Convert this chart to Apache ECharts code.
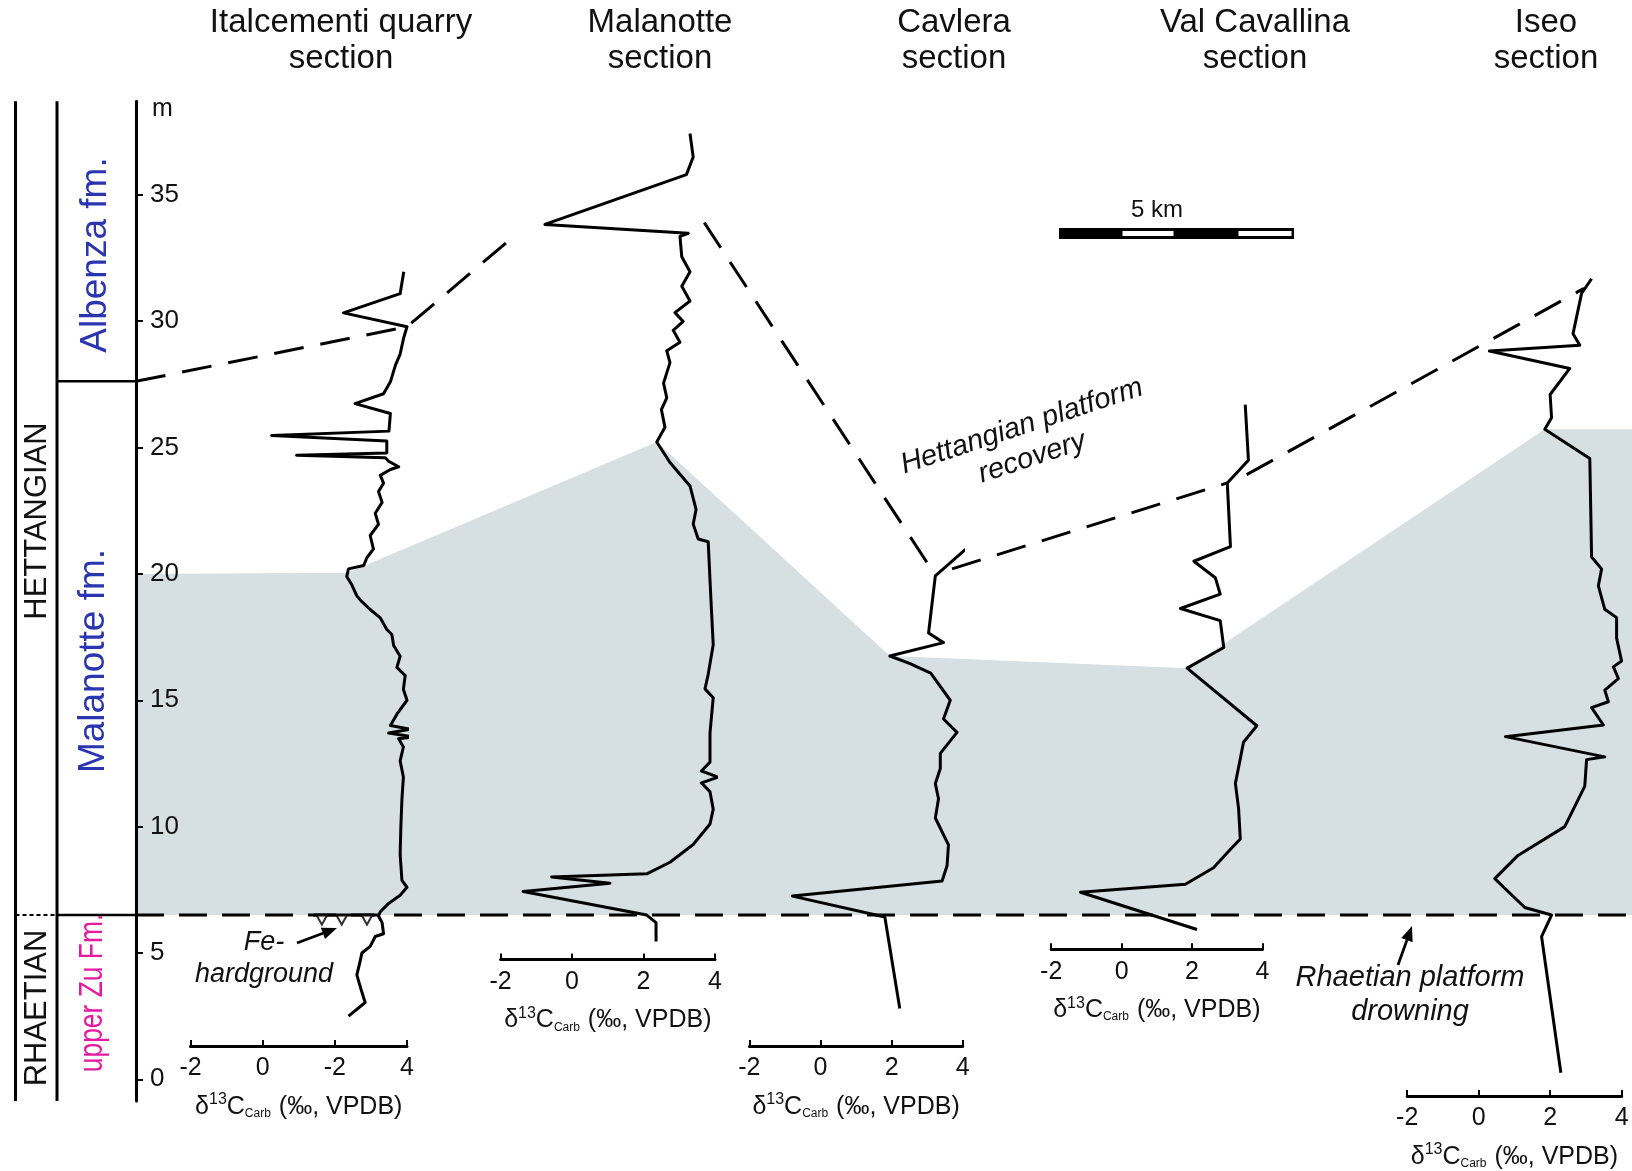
<!DOCTYPE html>
<html><head><meta charset="utf-8">
<script src="https://cdn.jsdelivr.net/npm/echarts@6/dist/echarts.min.js"></script>
<style>html,body{margin:0;padding:0;background:#fff}#c{width:1632px;height:1171px}</style>
</head><body><div id="c"></div>
<script>
// ---------------- DATA ----------------
const sectionTitles = ['Italcementi quarry\nsection', 'Malanotte\nsection', 'Cavlera\nsection', 'Val Cavallina\nsection', 'Iseo\nsection'];
const meterTicks = [0, 5, 10, 15, 20, 25, 30, 35];
const d13cTicksItalcementi = ['-2', '0', '-2', '4'];
const d13cTicks = ['-2', '0', '2', '4'];

// [delta13C (permil), height (m)]
const italcementi = [[2.38,2.5],[2.84,3.04],[2.72,3.59],[2.61,4.13],[2.70,4.67],[2.75,5.0],[2.98,5.26],[3.12,5.65],[3.35,5.76],[3.31,6.2],[3.21,6.46],[3.26,6.63],[3.49,6.96],[3.81,7.28],[4.0,7.6],[3.86,7.87],[3.81,8.9],[3.83,10.0],[3.86,11.1],[3.9,11.96],[3.81,12.6],[3.9,13.15],[3.77,13.48],[4.19,13.55],[3.49,13.7],[4.09,13.85],[3.54,14.0],[3.72,14.45],[4.0,15.0],[3.9,15.43],[3.95,15.98],[3.72,16.3],[3.81,16.74],[3.63,17.17],[3.58,17.6],[3.44,17.8],[3.26,18.26],[2.98,18.59],[2.75,18.9],[2.61,19.13],[2.47,19.57],[2.33,19.9],[2.38,20.2],[2.8,20.33],[2.89,20.65],[3.07,20.98],[2.98,21.52],[3.21,21.96],[3.12,22.4],[3.31,22.83],[3.21,23.26],[3.35,23.59],[3.26,23.9],[3.54,24.13],[3.77,24.24],[3.49,24.46],[3.4,24.6],[0.94,24.7],[3.44,24.78],[3.44,25.26],[0.25,25.48],[3.5,25.65],[3.54,26.35],[2.56,26.74],[3.35,27.13],[3.54,27.6],[3.68,28.26],[3.81,28.7],[3.91,29.35],[4.0,29.78],[2.24,30.33],[3.81,31.09],[3.91,31.96]];
const malanotte = [[2.35,5.45],[2.35,6.2],[2.09,6.5],[-1.37,7.43],[1.06,7.76],[-0.57,8.01],[2.09,8.13],[2.74,8.59],[3.39,9.29],[3.86,10.1],[3.95,10.69],[3.86,11.38],[3.62,11.73],[4.09,11.96],[3.62,12.2],[3.86,12.55],[3.86,13.71],[3.95,15.1],[3.72,15.45],[3.81,16.03],[3.95,17.2],[3.9,18.59],[3.86,19.76],[3.81,21.27],[3.53,21.38],[3.39,21.97],[3.47,22.55],[3.3,23.48],[2.74,24.41],[2.37,25.22],[2.6,25.8],[2.5,26.5],[2.65,26.97],[2.56,27.55],[2.74,28.36],[2.65,28.83],[3.02,29.17],[2.83,29.64],[3.11,29.99],[2.88,30.34],[3.3,30.8],[3.07,31.38],[3.3,31.96],[3.07,32.55],[3.02,33.36],[3.25,33.48],[-0.76,33.83],[3.2,35.8],[3.39,36.5],[3.3,37.43]];
const cavlera = [[2.23,2.8],[1.81,6.42],[-0.79,7.25],[3.42,7.85],[3.56,8.45],[3.6,9.28],[3.23,10.34],[3.32,11.1],[3.23,11.7],[3.37,12.3],[3.37,12.9],[3.84,13.73],[3.46,14.26],[3.65,15.0],[3.1,16.07],[2.52,16.45],[1.95,16.75],[3.46,17.28],[3.04,17.66],[3.23,19.92],[4.08,20.97]];
const valCavallina = [[2.14,5.93],[-1.17,7.4],[1.81,7.72],[2.61,8.37],[3.09,9.1],[3.37,9.51],[3.32,10.73],[3.23,11.71],[3.37,12.69],[3.46,13.34],[3.84,13.99],[1.86,16.27],[2.9,17.09],[2.8,18.15],[1.67,18.63],[2.8,19.2],[2.66,19.85],[2.05,20.5],[3.09,21.08],[3.0,23.6],[3.6,24.5],[3.51,26.7]];
const iseo = [[2.3,0.26],[1.76,5.65],[2.04,6.5],[1.29,6.8],[0.45,7.94],[1.1,8.86],[2.41,10.0],[2.97,11.6],[3.02,12.65],[3.53,12.76],[0.75,13.56],[3.49,14.02],[3.16,14.71],[3.63,14.94],[3.53,15.4],[3.91,15.86],[3.77,16.32],[4.0,16.55],[3.86,17.46],[3.86,18.27],[3.53,18.6],[3.35,19.53],[3.44,20.2],[3.16,20.67],[3.11,24.57],[1.85,25.72],[2.04,26.18],[2.0,27.1],[2.55,28.13],[0.3,28.82],[2.83,29.05],[2.64,29.5],[2.88,31.1],[3.16,31.68]];
const sectionSeries = [italcementi, malanotte, cavlera, valCavallina, iseo];

// Fe-hardground marks on Italcementi section
const feHardground = [[1.64,6.3],[2.19,6.3],[2.89,6.3]];
const feHardgroundLine = [[1.4,6.5],[3.1,6.5]];

// correlation lines: [section index (-1 = height axis, 5 = right edge), delta13C, height m]
const formationTop = 27.62;
const drowningLevel = 6.5;
const linkAlbenza = [[-1,0,formationTop],[0,4.0,29.78],[1,-1.68,33.3]];
const linkMalanotteCavlera = [[1,3.7,33.9],[2,3.23,19.95]];
const linkCavleraVal = [[2,3.7,20.2],[3,3.0,23.6]];
const linkValIseo = [[3,3.55,23.93],[4,2.95,31.3]];
const linkDrowning = [[-1,0,drowningLevel],[5,0,drowningLevel]];
// grey platform interval: top boundary points (closed at drowning level)
const shadeTop = [[-1,0,20.0],[0,2.36,20.05],[1,2.37,25.22],[2,1.95,16.75],[3,1.86,16.27],[4,1.85,25.72],[5,0,25.72]];

// ---------------- LAYOUT ----------------
const W = 1632, H = 1171;
const Y0 = 1079.3, PXM = 25.27;
const py = m => Y0 - m * PXM;
const YMAX = 38.7, YMIN = -0.86;
const AXIS_X = 136;
const XMIN = -2, XMAX = 4;
const SEC = [
  {left:190.5, width:216.5, base:1.32, tx:341},
  {left:500.6, width:214.4, base:4.74, tx:660},
  {left:749.4, width:213.3, base:1.32, tx:954},
  {left:1051.2, width:211.3, base:5.15, tx:1255},
  {left:1407.2, width:214.4, base:-0.66, tx:1546}
];
const FONT = '"Liberation Sans", Arial, Helvetica, sans-serif';
const SHADE = '#d6dfe2';
const LW = 3;
const ovX = (k, d) => k < 0 ? AXIS_X : (k >= SEC.length ? W : SEC[k].left + (d - XMIN) / (XMAX - XMIN) * SEC[k].width);
const toOv = arr => arr.map(p => [ovX(p[0], p[1]), p[2]]);

const grids = [{left: AXIS_X, right: 0, top: py(YMAX), bottom: H - py(YMIN), outerBoundsMode: 'none', containLabel: false}];
const xAxes = [{gridIndex: 0, type: 'value', min: AXIS_X, max: W, show: false}];
const yAxes = [{
  gridIndex: 0, type: 'value', min: YMIN, max: YMAX, position: 'left', z: 10,
  axisLine: {show: true, onZero: false, lineStyle: {color: '#000', width: 3}},
  axisTick: {show: true, inside: true, length: 7, lineStyle: {color: '#000', width: 2}, customValues: meterTicks},
  axisLabel: {show: true, inside: true, margin: 14, fontSize: 26, color: '#111', fontFamily: FONT, customValues: meterTicks},
  splitLine: {show: false},
  name: 'm', nameLocation: 'end', nameGap: -8,
  nameTextStyle: {fontSize: 25, color: '#111', fontFamily: FONT, align: 'left', verticalAlign: 'middle', padding: [0, 0, 0, 16]}
}];

const axisName = '{d|δ}{s|13}{d|C}{b|Carb}{d| (‰, VPDB)}';
SEC.forEach((s, k) => {
  grids.push({left: s.left, width: s.width, top: py(YMAX), bottom: H - py(s.base), outerBoundsMode: 'none', containLabel: false});
  const labels = k === 0 ? d13cTicksItalcementi : d13cTicks;
  xAxes.push({
    gridIndex: k + 1, type: 'value', min: XMIN, max: XMAX, interval: 2, position: 'bottom', z: 10,
    axisLine: {show: true, onZero: false, lineStyle: {color: '#000', width: 3}},
    axisTick: {show: true, inside: true, length: 6, lineStyle: {color: '#000', width: 2}},
    axisLabel: {fontSize: 25, color: '#111', fontFamily: FONT, margin: 10, formatter: v => labels[Math.round((v - XMIN) / 2)]},
    splitLine: {show: false},
    name: axisName, nameLocation: 'middle', nameGap: 45,
    nameTextStyle: {color: '#111', fontFamily: FONT, rich: {
      d: {fontSize: 25, fontFamily: FONT, color: '#111', lineHeight: 32, verticalAlign: 'middle'},
      s: {fontSize: 16, fontFamily: FONT, color: '#111', lineHeight: 32, verticalAlign: 'top', padding: [1, 0, 0, 0]},
      b: {fontSize: 12, fontFamily: FONT, color: '#111', lineHeight: 32, verticalAlign: 'bottom', padding: [0, 1, 3, 0]}
    }}
  });
  yAxes.push({gridIndex: k + 1, type: 'value', min: s.base, max: YMAX, show: false});
});

const series = [];
// grey shaded interval
const shadePoly = toOv(shadeTop).concat([[W, drowningLevel], [AXIS_X, drowningLevel]]);
series.push({
  type: 'custom', xAxisIndex: 0, yAxisIndex: 0, z: 0, silent: true,
  data: shadePoly,
  renderItem: (params, api) => {
    if (params.dataIndex !== 0) return null;
    return {type: 'polygon', shape: {points: shadePoly.map(p => api.coord(p))}, style: {fill: SHADE}};
  }
});
const dashLine = (data, dash) => ({
  type: 'line', xAxisIndex: 0, yAxisIndex: 0, z: 3, silent: true, symbol: 'none', animation: false,
  data: toOv(data), lineStyle: {color: '#000', width: LW, type: dash, cap: 'butt'}
});
series.push(dashLine(linkDrowning, [28, 15]));
series.push(dashLine(linkAlbenza, [30, 17]));
series.push(dashLine(linkMalanotteCavlera, [30, 17]));
series.push(dashLine(linkCavleraVal, [30, 17]));
series.push(dashLine(linkValIseo, [30, 17]));

sectionSeries.forEach((d, k) => {
  series.push({
    type: 'line', name: sectionTitles[k].replace('\n', ' '), xAxisIndex: k + 1, yAxisIndex: k + 1,
    data: d, symbol: 'none', z: 5, silent: true, clip: false,
    lineStyle: {color: '#000', width: LW, join: 'round'}
  });
});
series.push({
  type: 'line', xAxisIndex: 1, yAxisIndex: 1, data: feHardgroundLine, symbol: 'none', z: 5, silent: true,
  lineStyle: {color: '#000', width: LW}
});
series.push({
  type: 'scatter', xAxisIndex: 1, yAxisIndex: 1, data: feHardground, symbol: 'triangle', symbolRotate: 180,
  symbolSize: [10, 9], z: 6, silent: true, itemStyle: {color: '#fff', borderColor: '#000', borderWidth: 2}
});

// ---------------- GRAPHIC (labels, column, annotations) ----------------
const g = [];
const txt = (text, x, y, o) => Object.assign({
  type: 'text', x, y, z: 50, silent: true,
  style: Object.assign({text, fill: '#111', fontFamily: FONT, fontSize: 32, align: 'center', verticalAlign: 'middle'}, o && o.style)
}, o && o.el);
SEC.forEach((s, k) => g.push(txt(sectionTitles[k], s.tx, 41, {style: {lineHeight: 36, fontSize: 33}})));
const lineEl = (x1, y1, x2, y2, w, dash) => ({type: 'line', z: 40, silent: true, shape: {x1, y1, x2, y2}, style: {stroke: '#000', lineWidth: w, lineDash: dash || null}});
g.push(lineEl(15.5, py(YMAX), 15.5, py(YMIN), 3));
g.push(lineEl(57, py(YMAX), 57, py(YMIN), 3));
g.push(lineEl(57, py(formationTop), AXIS_X, py(formationTop), 2.5));
g.push(lineEl(57, py(drowningLevel), AXIS_X, py(drowningLevel), 2.5));
g.push(lineEl(15.5, py(drowningLevel), 57, py(drowningLevel), 2, [4, 3]));
const rot = Math.PI / 2;
g.push(txt('HETTANGIAN', 37.5, 521, {el: {rotation: rot}, style: {fontSize: 31}}));
g.push(txt('RHAETIAN', 37.5, 1008, {el: {rotation: rot}, style: {fontSize: 31}}));
g.push(txt('Albenza fm.', 96, 255, {el: {rotation: rot}, style: {fontSize: 37, fill: '#2a35b0'}}));
g.push(txt('Malanotte fm.', 94, 661, {el: {rotation: rot}, style: {fontSize: 37, fill: '#2a35b0'}}));
g.push(txt('upper Zu Fm.', 93, 993, {el: {rotation: rot, scaleX: 0.8}, style: {fontSize: 33, fill: '#e41aa0'}}));

g.push(txt('Hettangian platform\nrecovery', 1027, 442, {el: {rotation: 18.2 * Math.PI / 180}, style: {fontSize: 29, fontStyle: 'italic', lineHeight: 33}}));
g.push(txt('Fe-\nhardground', 264, 958, {style: {fontSize: 27, fontStyle: 'italic', lineHeight: 32}}));
g.push(txt('Rhaetian platform\ndrowning', 1410, 995, {style: {fontSize: 29, fontStyle: 'italic', lineHeight: 34}}));
const arrow = (x1, y1, x2, y2) => {
  const a = Math.atan2(y2 - y1, x2 - x1), L = 15, Wd = 6;
  const bx = x2 - L * Math.cos(a), by = y2 - L * Math.sin(a);
  g.push(lineEl(x1, y1, bx, by, 2.8));
  g.push({type: 'polygon', z: 40, silent: true, shape: {points: [[x2, y2], [bx + Wd * Math.sin(a), by - Wd * Math.cos(a)], [bx - Wd * Math.sin(a), by + Wd * Math.cos(a)]]}, style: {fill: '#000'}});
};
arrow(297, 943, 337, 928);
arrow(1398, 965, 1412, 926);

// 5 km scale bar
const sb = [1059, 1121, 1176, 1237, 1294];
g.push({type: 'rect', z: 40, silent: true, shape: {x: sb[0], y: 228, width: sb[4] - sb[0], height: 11}, style: {fill: '#000'}});
[[1, 2], [3, 4]].forEach(([i, j]) => g.push({type: 'rect', z: 41, silent: true, shape: {x: sb[i] + 1.5, y: 231, width: sb[j] - sb[i] - 4, height: 5}, style: {fill: '#fff'}}));
g.push(txt('5 km', 1157, 210, {style: {fontSize: 24}}));

const chart = echarts.init(document.getElementById('c'), null, {renderer: 'canvas'});
chart.setOption({
  animation: false, backgroundColor: '#fff',
  grid: grids, xAxis: xAxes, yAxis: yAxes, series, graphic: {elements: g}
});
</script></body></html>
